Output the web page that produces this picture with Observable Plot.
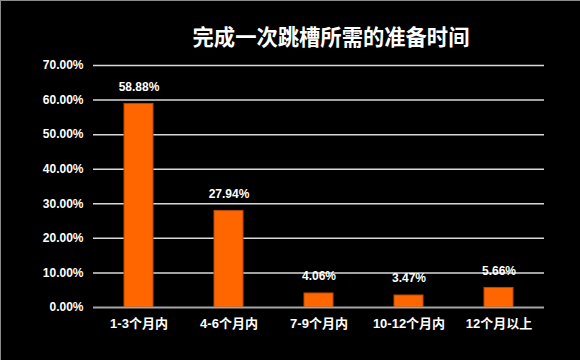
<!DOCTYPE html>
<html>
<head>
<meta charset="utf-8">
<script src="https://cdn.jsdelivr.net/npm/d3@7"></script>
<script src="https://cdn.jsdelivr.net/npm/@observablehq/plot@0.6"></script>
<style>
  html, body { margin: 0; padding: 0; background: #000; }
  #wrap { position: relative; width: 580px; height: 360px; background: #000; overflow: hidden; }
  #title { position: absolute; left: 41px; top: 22px; width: 580px; text-align: center; color: #fff;
           font-family: "Noto Sans CJK SC", sans-serif; font-weight: bold; font-size: 21.3px; line-height: 28px; white-space: nowrap; }
  #frame { position: absolute; left: 0; top: 0; width: 580px; height: 360px; box-sizing: border-box;
           border-left: 1px solid #8a8a8a; border-top: 1px solid #8a8a8a; pointer-events: none; }
  svg { display: block; }
</style>
</head>
<body>
<div id="wrap">
  <div id="chart"></div>
  <div id="title">完成一次跳槽所需的准备时间</div>
  <div id="frame"></div>
</div>
<script>
const titleText = "完成一次跳槽所需的准备时间";
const categories = ["1-3个月内", "4-6个月内", "7-9个月内", "10-12个月内", "12个月以上"];
const values = [58.88, 27.94, 4.06, 3.47, 5.66];
const yTicks = [0, 10, 20, 30, 40, 50, 60, 70];

document.getElementById("title").textContent = titleText;
const data = categories.map((c, i) => ({cat: c, v: values[i]}));
const fmt = d => d.toFixed(2) + "%";
const font = "'Liberation Sans', 'Noto Sans CJK SC', sans-serif";

const chart = Plot.plot({
  width: 580,
  height: 360,
  marginLeft: 93,
  marginRight: 36,
  marginTop: 65,
  marginBottom: 53,
  style: {background: "#000", color: "#fff", fontFamily: font, fontSize: "12px"},
  x: {domain: categories, paddingInner: 0.68, paddingOuter: 0.34, label: null},
  y: {domain: [0, 70], label: null},
  marks: [
    Plot.gridY(yTicks, {stroke: "#d9d9d9", strokeOpacity: 1, strokeWidth: 1.5}),
    Plot.barY(data, {x: "cat", y: "v", fill: "#ff6600", stroke: "#b84a00", strokeWidth: 1}),
    Plot.ruleY([0], {stroke: "#a6a6a6", strokeWidth: 1.5}),
    Plot.text(data, {x: "cat", y: "v", text: d => fmt(d.v), dy: -17, fill: "#fff",
                     fontWeight: "bold", fontSize: 12}),
    Plot.axisY({ticks: yTicks, tickFormat: fmt, tickSize: 0, tickPadding: 10, label: null,
                fill: "#fff", fontWeight: "bold", fontSize: 12}),
    Plot.axisX({tickSize: 0, tickPadding: 11, label: null, fill: "#fff",
                fontWeight: "bold", fontSize: 13})
  ]
});
document.getElementById("chart").appendChild(chart);
</script>
</body>
</html>
